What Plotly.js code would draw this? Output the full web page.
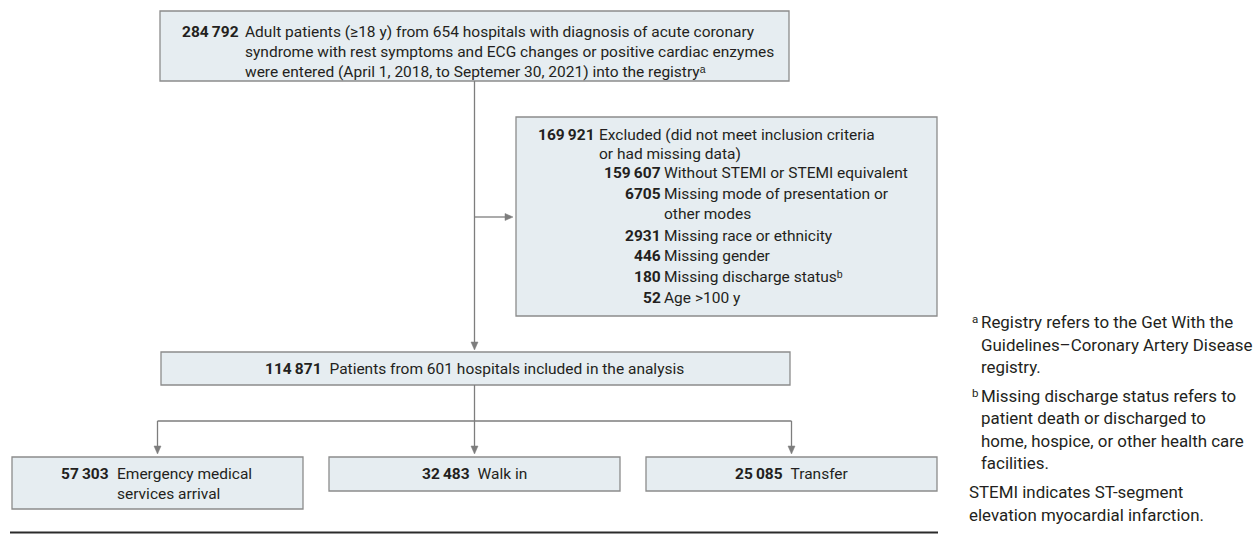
<!DOCTYPE html>
<html>
<head>
<meta charset="utf-8">
<script src="https://cdn.plot.ly/plotly-3.0.1.min.js"></script>
<style>html,body{margin:0;padding:0;background:#fff;}#chart{width:1260px;height:536px;}</style>
</head>
<body>
<div id="chart"></div>
<script>
// ---- data ----
const stageCounts = [284792, 169921, 114871];
const stageLabels = [
  'Adult patients (≥18 y) from 654 hospitals with diagnosis of acute coronary<br>syndrome with rest symptoms and ECG changes or positive cardiac enzymes<br>were entered (April 1, 2018, to Septemer 30, 2021) into the registry\u1d43',
  'Excluded (did not meet inclusion criteria<br>or had missing data)',
  'Patients from 601 hospitals included in the analysis'
];
const exclusionCounts = [159607, 6705, 2931, 446, 180, 52];
const exclusionLabels = [
  'Without STEMI or STEMI equivalent',
  'Missing mode of presentation or<br>other modes',
  'Missing race or ethnicity',
  'Missing gender',
  'Missing discharge status\u1d47',
  'Age >100 y'
];
const modeCounts = [57303, 32483, 25085];
const modeLabels = ['Emergency medical<br>services arrival', 'Walk in', 'Transfer'];
const footnoteMarks = ['a', '', '', 'b', '', '', '', '-', '-'];
const footnoteTexts = [
  'Registry refers to the Get With the',
  'Guidelines–Coronary Artery Disease',
  'registry.',
  'Missing discharge status refers to',
  'patient death or discharged to',
  'home, hospice, or other health care',
  'facilities.',
  'STEMI indicates ST-segment',
  'elevation myocardial infarction.'
];

// ---- styles / geometry ----
const FONT = 'Roboto, "Liberation Sans", "DejaVu Sans", sans-serif';
const TXT = '#231f20';
const FILL = '#e6edf1';
const BORDER = '#8c8c8c';
const LINE = '#7d7d7d';
const FS = 15.5;
const FN = 16.9;

function fmt(n) {
  const s = String(n);
  if (s.length < 5) return s;
  return s.replace(/\B(?=(\d{3})+(?!\d))/g, '\u2009');
}

const shapes = [];
const ann = [];

function box(x0, y0, x1, y1) {
  shapes.push({type: 'rect', xref: 'x', yref: 'y', x0, y0, x1, y1,
    fillcolor: FILL, line: {color: BORDER, width: 1.3}, layer: 'below'});
}
function seg(x0, y0, x1, y1) {
  shapes.push({type: 'line', xref: 'x', yref: 'y', x0, y0, x1, y1,
    line: {color: LINE, width: 1.3}});
}
function arrowDown(x, y0, yTip) {
  seg(x, y0, x, yTip - 7);
  shapes.push({type: 'path', xref: 'x', yref: 'y',
    path: `M ${x - 3.5},${yTip - 8} L ${x + 3.5},${yTip - 8} L ${x},${yTip} Z`,
    fillcolor: LINE, line: {color: LINE, width: 0.5}});
}
function arrowRight(x0, y, xTip) {
  seg(x0, y, xTip - 7, y);
  shapes.push({type: 'path', xref: 'x', yref: 'y',
    path: `M ${xTip - 8},${y - 3.5} L ${xTip - 8},${y + 3.5} L ${xTip},${y} Z`,
    fillcolor: LINE, line: {color: LINE, width: 0.5}});
}
function text(x, y, t, xanchor, opts) {
  const o = Object.assign({size: FS}, opts || {});
  ann.push({xref: 'x', yref: 'y', x, y, text: t, showarrow: false,
    xanchor, yanchor: 'middle', align: xanchor, borderpad: 0, borderwidth: 0,
    font: {family: FONT, size: o.size, color: TXT}});
}
// one annotation per line
function lines(x, y, label, step, xanchor) {
  label.split('<br>').forEach((ln, k) => text(x, y + k * step, ln, xanchor || 'left'));
}

// top box
box(160, 11, 789, 81);
text(239, 32, '<b>' + fmt(stageCounts[0]) + '</b>', 'right');
lines(245, 32, stageLabels[0], 20);

// main vertical
arrowDown(474.5, 81, 350);
// excluded arrow
arrowRight(474.5, 217, 513);

// excluded box
box(516, 117, 937, 316);
text(595, 135, '<b>' + fmt(stageCounts[1]) + '</b>', 'right');
lines(599, 135, stageLabels[1], 19);
const exY = [173, 194, 236, 256, 277, 298];
exclusionCounts.forEach((c, i) => {
  text(661, exY[i], '<b>' + fmt(c) + '</b>', 'right');
  lines(664, exY[i], exclusionLabels[i], 20);
});

// included box
box(161, 352, 790, 385);
text(474.5, 368.5, '<b>' + fmt(stageCounts[2]) + '</b>\u2002' + stageLabels[2], 'center');

// branches
const modeBoxes = [[12, 303, 457, 509], [329, 620, 457, 491], [646, 937, 457, 491]];
seg(474.5, 385, 474.5, 421);
seg(157.5, 421, 791.5, 421);
modeBoxes.forEach((b, i) => {
  const cx = (b[0] + b[1]) / 2;
  arrowDown(cx, 421, 454);
  box(b[0], b[2], b[1], b[3]);
  if (modeLabels[i].indexOf('<br>') >= 0) {
    text(109, 474, '<b>' + fmt(modeCounts[i]) + '</b>', 'right');
    lines(117, 474, modeLabels[i], 19.5);
  } else {
    text(cx, (b[2] + b[3]) / 2, '<b>' + fmt(modeCounts[i]) + '</b>\u2002' + modeLabels[i], 'center');
  }
});

// bottom rule
shapes.push({type: 'line', xref: 'x', yref: 'y', x0: 10, y0: 532.5, x1: 938, y1: 532.5,
  line: {color: '#2b2b2b', width: 2}});

// footnotes
const fnY = [322, 345, 367, 396, 418, 441, 463, 492, 515];
footnoteTexts.forEach((t, i) => {
  const m = footnoteMarks[i];
  if (m === '-') {
    text(969, fnY[i], t, 'left', {size: FN});
  } else {
    if (m) text(972, fnY[i] - 3.5, m, 'left', {size: 11.5});
    text(981, fnY[i], t, 'left', {size: FN});
  }
});

const layout = {
  width: 1260, height: 536, autosize: false,
  margin: {l: 0, r: 0, t: 0, b: 0, pad: 0},
  paper_bgcolor: '#ffffff', plot_bgcolor: '#ffffff',
  xaxis: {range: [0, 1260], visible: false, fixedrange: true},
  yaxis: {range: [536, 0], visible: false, fixedrange: true},
  showlegend: false,
  shapes: shapes,
  annotations: ann
};
Plotly.newPlot('chart', [], layout, {displayModeBar: false, staticPlot: true});
</script>
</body>
</html>
